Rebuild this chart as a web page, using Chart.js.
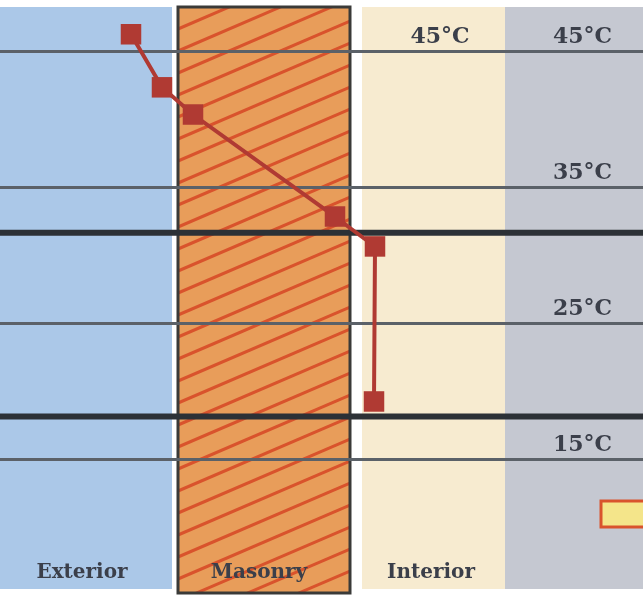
<!DOCTYPE html>
<html>
<head>
<meta charset="utf-8">
<script src="https://cdn.jsdelivr.net/npm/chart.js@4.4.1/dist/chart.umd.min.js"></script>
<style>
body { margin: 0; background: #fff; }
#wrap { width: 643px; height: 595px; }
</style>
</head>
<body>
<div id="wrap"><canvas id="wallChart" width="643" height="595"></canvas></div>
<script>
// zones across the wall, left to right (x = position across the drawing)
var zoneNames = ['Exterior', 'Masonry', 'Interior', ''];
var zoneStart = [0, 178, 362, 505];
var zoneEnd = [172, 350, 505, 643];
var zoneLabelX = [82, 259, 431, 574];

// temperature profile through the wall
var profileX = [131, 162, 193, 335, 351, 375, 374];
var profileTemp = [46.3, 42.4, 40.4, 32.9, 32.0, 30.7, 19.3];
var profileMarker = [true, true, true, true, false, true, true];

// temperature scale
var tempTicks = [15, 25, 35, 45];
var tempLabels = ['15°C', '25°C', '35°C', '45°C'];

// heavy reference lines
var refTemps = [31.7, 18.2];

var colors = {
	zones: ['#abc8e8', '#e89d5a', '#f7ebd0', '#c5c8d1'],
	hatch: '#d9532c',
	border: '#3a3a38',
	profile: '#b03a33',
	grid: '#5b6168',
	heavy: '#2c3136',
	text: '#3b3f4a'
};

var labelFont = 'bold 22px "DejaVu Serif"';

// draws the zones, the masonry hatch and the texts
var wallPlugin = {
	id: 'wall',
	beforeDraw: function (chart) {
		var ctx = chart.ctx;
		var xs = chart.scales.x;
		var area = chart.chartArea;
		var top = area.top + 7;
		var bottom = area.bottom - 2;
		var i;

		ctx.save();
		for (i = 0; i < zoneNames.length; i++) {
			var x0 = xs.getPixelForValue(zoneStart[i]);
			var x1 = xs.getPixelForValue(zoneEnd[i]);
			ctx.fillStyle = colors.zones[i];
			if (i === 1) {
				ctx.fillRect(x0, top, x1 - x0, bottom - top);
				// hatch
				ctx.save();
				ctx.beginPath();
				ctx.rect(x0, top, x1 - x0, bottom - top);
				ctx.clip();
				ctx.strokeStyle = colors.hatch;
				ctx.lineWidth = 3;
				for (var k = -10; k < 40; k++) {
					var y0 = top + k * 22;
					ctx.beginPath();
					ctx.moveTo(x0, y0);
					ctx.lineTo(x1, y0 - (x1 - x0) * 0.43);
					ctx.stroke();
				}
				ctx.restore();
				ctx.strokeStyle = colors.border;
				ctx.lineWidth = 3;
				ctx.strokeRect(x0, top, x1 - x0, bottom - top);
			} else {
				ctx.fillRect(x0, top, x1 - x0, bottom - top - 4);
			}
		}

		// small key box at the right edge
		ctx.fillStyle = '#f4e58a';
		ctx.strokeStyle = colors.hatch;
		ctx.lineWidth = 3;
		ctx.fillRect(area.right - 42, area.top + 501, 50, 26);
		ctx.strokeRect(area.right - 42, area.top + 501, 50, 26);

		// zone names
		ctx.fillStyle = colors.text;
		ctx.font = 'bold 20px "DejaVu Serif"';
		ctx.textAlign = 'center';
		ctx.textBaseline = 'middle';
		for (i = 0; i < zoneNames.length; i++) {
			ctx.fillText(zoneNames[i], xs.getPixelForValue(zoneLabelX[i]), area.bottom - 22);
		}

		// temperature labels above their grid lines
		var ys = chart.scales.y;
		ctx.font = labelFont;
		ctx.textAlign = 'right';
		for (i = 0; i < tempTicks.length; i++) {
			ctx.fillText(tempLabels[i], xs.getPixelForValue(612), ys.getPixelForValue(tempTicks[i]) - 15);
		}
		// second 45°C label over the interior
		ctx.textAlign = 'center';
		ctx.fillText(tempLabels[3], xs.getPixelForValue(440), ys.getPixelForValue(tempTicks[3]) - 15);
		ctx.restore();
	}
};

function flatLine(t) {
	return [{ x: 0, y: t }, { x: 643, y: t }];
}

var profileData = profileX.map(function (x, i) {
	return { x: x, y: profileTemp[i] };
});

var config = {
	type: 'line',
	data: {
		datasets: [{
			label: 'Temperature',
			data: profileData,
			borderColor: colors.profile,
			backgroundColor: colors.profile,
			borderWidth: 4,
			pointStyle: 'rect',
			pointRadius: profileMarker.map(function (m) { return m ? 14.5 : 0; }),
			pointBorderWidth: 0,
			tension: 0,
			clip: false,
			order: 0
		}, {
			data: flatLine(refTemps[0]),
			borderColor: colors.heavy,
			borderWidth: 6,
			pointRadius: 0,
			order: 1
		}, {
			data: flatLine(refTemps[1]),
			borderColor: colors.heavy,
			borderWidth: 6,
			pointRadius: 0,
			order: 1
		}]
	},
	options: {
		responsive: false,
		animation: false,
		devicePixelRatio: 1,
		layout: { padding: 0, autoPadding: false },
		plugins: {
			legend: { display: false },
			tooltip: { enabled: false }
		},
		scales: {
			x: {
				type: 'linear',
				min: 0,
				max: 643,
				display: false
			},
			y: {
				type: 'linear',
				position: 'right',
				min: 5.07,
				max: 48.82,
				afterBuildTicks: function (scale) {
					scale.ticks = tempTicks.map(function (v) { return { value: v }; });
				},
				afterFit: function (scale) {
					scale.width = 0;
				},
				border: { display: false },
				grid: {
					color: colors.grid,
					lineWidth: 3,
					drawTicks: false
				},
				ticks: { display: false }
			}
		}
	},
	plugins: [wallPlugin]
};

var wallChart = new Chart(document.getElementById('wallChart'), config);
</script>
</body>
</html>
